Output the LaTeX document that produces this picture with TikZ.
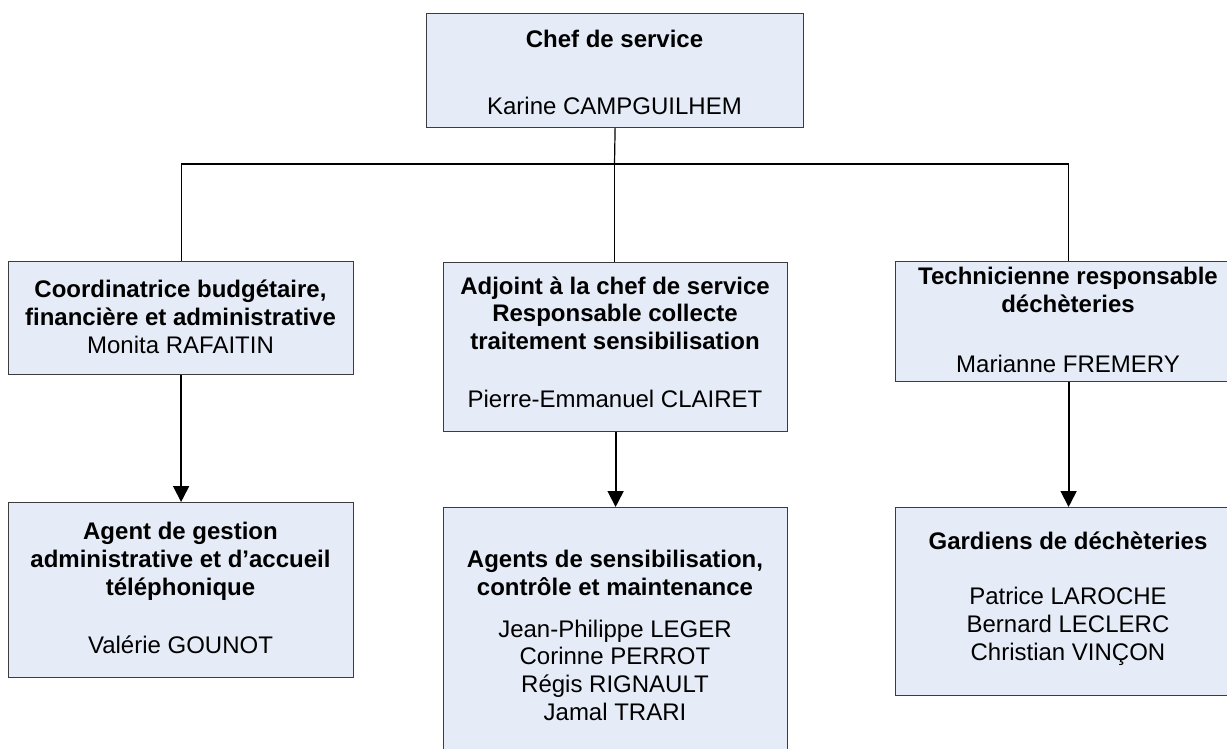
\documentclass[tikz,border=0pt]{standalone}
\usepackage{fontspec}
\setmainfont{Liberation Sans}
\usetikzlibrary{arrows.meta}
\definecolor{boxfill}{RGB}{230,236,247}
\definecolor{boxline}{RGB}{60,60,60}
\begin{document}
\begin{tikzpicture}[x=1pt,y=1pt,
  box/.style={draw=boxline, line width=1.2pt, fill=boxfill, rectangle, inner sep=0pt, anchor=north west},
  txt/.style={align=center, inner sep=0pt, anchor=base, font=\fontsize{24}{27.6}\selectfont},
  tree/.style={draw=black, line width=1.2pt},
  arr/.style={draw=black, line width=1.8pt, -{Triangle[width=16pt,length=16pt]}}]
\useasboundingbox (0,0) rectangle (1227,-749);
\clip (0,0) rectangle (1227,-749);
% boxes
\node[box, minimum width=377pt, minimum height=114pt] (top) at (426,-13) {};
\node[box, minimum width=345pt, minimum height=113pt] (m1) at (8,-261) {};
\node[box, minimum width=344pt, minimum height=169pt] (m2) at (443,-262) {};
\node[box, minimum width=346pt, minimum height=120pt] (m3) at (895,-261) {};
\node[box, minimum width=345pt, minimum height=175pt] (b1) at (8,-502) {};
\node[box, minimum width=344pt, minimum height=260pt] (b2) at (443,-507) {};
\node[box, minimum width=346pt, minimum height=188pt] (b3) at (895,-507) {};
% texts (anchor = baseline of last line)
\node[txt] (topt) at (614.5,-115) {\bfseries Chef de service\\[39.4pt] Karine CAMPGUILHEM};
\node[txt] (m1t) at (180.5,-353) {\bfseries Coordinatrice budgétaire,\\ \bfseries financière et administrative\\ Monita RAFAITIN};
\node[txt] (m2t) at (615,-407) {\bfseries Adjoint à la chef de service\\ \bfseries Responsable collecte\\ \bfseries traitement sensibilisation\\[30pt] Pierre-Emmanuel CLAIRET};
\node[txt] (m3t) at (1068,-372) {\bfseries Technicienne responsable\\ \bfseries déchèteries\\[32.4pt] Marianne FREMERY};
\node[txt] (b1t) at (180.5,-653) {\bfseries Agent de gestion\\ \bfseries administrative et d’accueil\\ \bfseries téléphonique\\[30.4pt] Valérie GOUNOT};
\node[txt] (b2t) at (615,-720) {\bfseries Agents de sensibilisation,\\ \bfseries contrôle et maintenance\\[14.4pt] Jean-Philippe LEGER\\ Corinne PERROT\\ Régis RIGNAULT\\ Jamal TRARI};
\node[txt] (b3t) at (1068,-660) {\bfseries Gardiens de déchèteries\\[27.4pt] Patrice LAROCHE\\ Bernard LECLERC\\ Christian VINÇON};
% connectors
\coordinate (bus) at (614.5,-164);
\draw[tree] (top.south) -- (bus);
\draw[tree] (m1.north) |- (bus);
\draw[tree] (bus) -| (m3.north);
\draw[tree] (bus) -- (bus |- m2.north);
\draw[arr] (m1.south) -- (b1.north);
\draw[arr] (m2.south) -- (b2.north);
\draw[arr] (m3.south) -- (b3.north);
\end{tikzpicture}
\end{document}
